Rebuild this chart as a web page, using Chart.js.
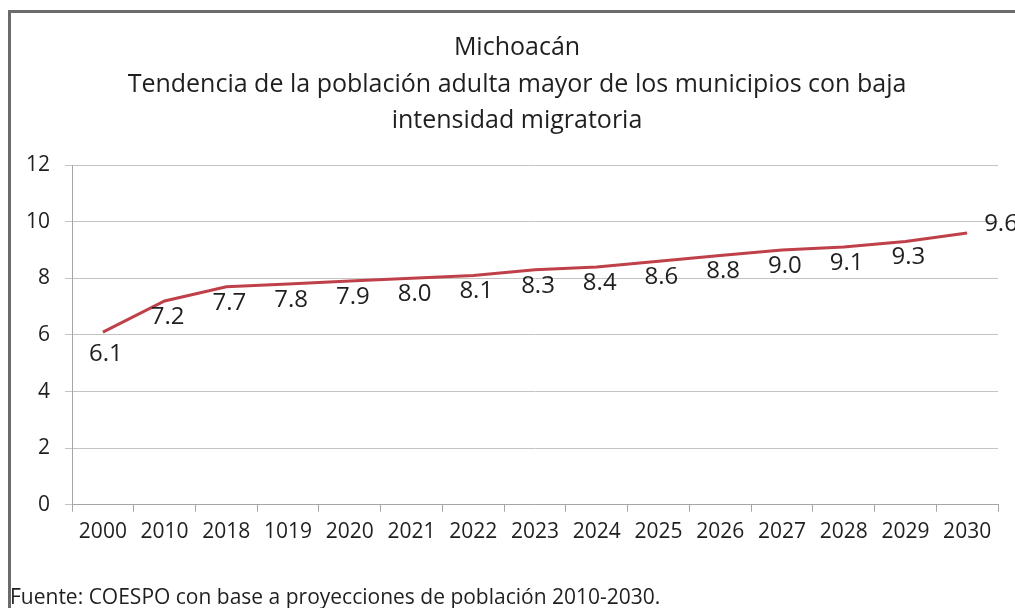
<!DOCTYPE html>
<html>
<head>
<meta charset="utf-8">
<script src="https://cdn.jsdelivr.net/npm/chart.js@4.4.0/dist/chart.umd.min.js"></script>
<style>
  html, body { margin: 0; padding: 0; background: #fff; }
  body { width: 1015px; height: 608px; position: relative; overflow: hidden; }
  #frame {
    position: absolute; left: 8px; top: 10px; width: 1030px; height: 640px;
    border: 3px solid #6b6b6b; box-sizing: border-box;
  }
  #wrap { position: absolute; left: 0; top: 0; width: 1015px; height: 608px; }
  #titulo {
    position: absolute; left: 0; top: 27px; width: 1034px; text-align: center;
    font-family: "Open Sans", sans-serif; font-size: 25px; line-height: 36.5px; color: #1f1f1f;
  }
  #fuente {
    position: absolute; left: 10px; top: 582px; line-height: 28px;
    font-family: "Open Sans", sans-serif; font-size: 21px; color: #1f1f1f;
    white-space: nowrap;
  }
</style>
</head>
<body>
<div id="frame"></div>
<div id="wrap"><canvas id="chart" width="1015" height="608"></canvas></div>
<div id="titulo"></div>
<div id="fuente">Fuente: COESPO con base a proyecciones de población 2010-2030.</div>
<script>
// Datos
var years = ["2000", "2010", "2018", "1019", "2020", "2021", "2022", "2023", "2024", "2025", "2026", "2027", "2028", "2029", "2030"];
var values = [6.1, 7.2, 7.7, 7.8, 7.9, 8.0, 8.1, 8.3, 8.4, 8.6, 8.8, 9.0, 9.1, 9.3, 9.6];
var titleLines = ["Michoacán", "Tendencia de la población adulta mayor de los municipios con baja", "intensidad migratoria"];

var textColor = '#1f1f1f';
var fontFamily = '"Open Sans", sans-serif';

// titulo (centrado sobre todo el marco)
titleLines.forEach(function(t) {
    var d = document.createElement('div');
    d.textContent = t;
    document.getElementById('titulo').appendChild(d);
});

// etiquetas de datos (debajo del punto, la ultima a la derecha)
var valueLabels = {
    id: 'valueLabels',
    afterDatasetsDraw: function(chart) {
        var ctx = chart.ctx;
        var meta = chart.getDatasetMeta(0);
        ctx.save();
        ctx.font = '24px ' + fontFamily;
        ctx.fillStyle = textColor;
        ctx.textBaseline = 'middle';
        meta.data.forEach(function(pt, i) {
            var txt = values[i].toFixed(1);
            if (i === meta.data.length - 1) {
                ctx.textAlign = 'left';
                ctx.fillText(txt, pt.x + 17, pt.y - 9);
            } else {
                ctx.textAlign = 'center';
                ctx.fillText(txt, pt.x + 3, pt.y + (i === 0 ? 22 : 16));
            }
        });
        ctx.restore();
    }
};

var ctx = document.getElementById('chart');

var chartData = {
    labels: years,
    datasets: [{
        data: values,
        borderColor: '#c0404a',
        borderWidth: 3,
        pointRadius: 0,
        tension: 0,
        fill: false
    }]
};

var chartOptions = {
    responsive: false,
    animation: false,
    layout: { padding: { left: 11, right: 17, top: 165, bottom: 55 } },
    plugins: {
        legend: { display: false },
        tooltip: { enabled: false },
        title: { display: false }
    },
    scales: {
        x: {
            offset: true,
            grid: {
                display: true,
                drawOnChartArea: false,
                drawTicks: true,
                tickLength: 7,
                color: '#a6a6a6',
                offset: true
            },
            border: { display: true, color: '#a6a6a6', width: 1 },
            ticks: {
                color: textColor,
                font: { family: fontFamily, size: 21 },
                padding: 8,
                maxRotation: 0,
                autoSkip: false
            }
        },
        y: {
            min: 0,
            max: 12,
            grid: {
                color: '#c4c4c4',
                tickLength: 7,
                drawTicks: true
            },
            border: { display: true, color: '#a6a6a6', width: 1 },
            ticks: {
                stepSize: 2,
                color: textColor,
                font: { family: fontFamily, size: 21 },
                padding: 15
            }
        }
    }
};

var config = {
    type: 'line',
    data: chartData,
    options: chartOptions,
    plugins: [valueLabels]
};

var lineChart = new Chart(ctx, config);
</script>
</body>
</html>
